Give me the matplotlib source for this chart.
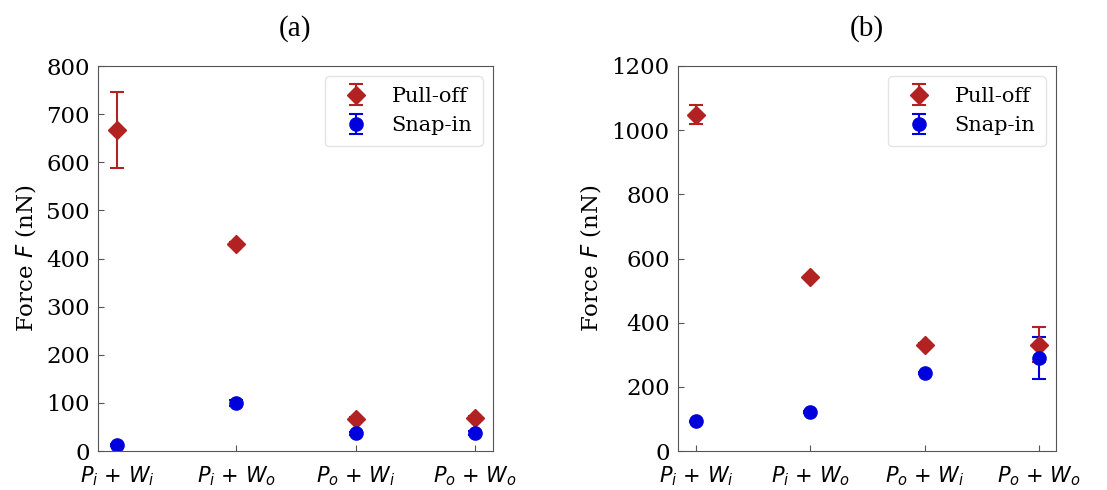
import numpy as np
import matplotlib
matplotlib.use('Agg')
import matplotlib.pyplot as plt

labels = [r'$P_i$ + $W_i$', r'$P_i$ + $W_o$', r'$P_o$ + $W_i$', r'$P_o$ + $W_o$']

pull_a = [667, 431, 67, 69]
pull_a_err = [79, 4, 3, 3]
snap_a = [13, 99, 37, 38]
snap_a_err = [2, 6, 3, 4]

pull_b = [1048, 541, 331, 331]
pull_b_err = [29, 5, 5, 55]
snap_b = [92, 121, 242, 289]
snap_b_err = [3, 3, 3, 66]

red = '#b22222'
blue = '#0000dd'

plt.rcParams['font.family'] = 'DejaVu Serif'
plt.rcParams['mathtext.fontset'] = 'dejavusans'

fig = plt.figure(figsize=(11.07, 4.9), dpi=100)
ax1 = fig.add_axes([98 / 1107, 39 / 490, 395 / 1107, 385 / 490])
ax2 = fig.add_axes([678 / 1107, 39 / 490, 378 / 1107, 385 / 490])

panels = [
    (ax1, pull_a, pull_a_err, snap_a, snap_a_err, 800, '(a)'),
    (ax2, pull_b, pull_b_err, snap_b, snap_b_err, 1200, '(b)'),
]

x = np.arange(len(labels))
for ax, pull, perr, snap, serr, ymax, title in panels:
    ax.errorbar(x, pull, yerr=perr, fmt='D', color=red, markersize=9.5,
                capsize=5, elinewidth=1.5, capthick=1.5, label='Pull-off')
    ax.errorbar(x, snap, yerr=serr, fmt='o', color=blue, markersize=9.5,
                capsize=5, elinewidth=1.5, capthick=1.5, label='Snap-in')
    ax.set_xlim(-0.16, 3.15)
    ax.set_ylim(0, ymax)
    ax.set_xticks(x)
    ax.set_xticklabels(labels, fontsize=15)
    ax.tick_params(axis='y', labelsize=16.5, pad=6)
    ax.tick_params(axis='x', pad=10)
    ax.tick_params(direction='in', length=4, color='#555555')
    for s in ax.spines.values():
        s.set_color('#555555')
    ax.set_ylabel(r'Force $F$ (nN)', fontsize=16.5, labelpad=6)
    ax.legend(loc='upper right', fontsize=15, handletextpad=0.7,
              borderpad=0.5, labelspacing=0.5, edgecolor='#dddddd')
    ax.set_title(title, fontsize=21, family='Liberation Serif', pad=22)

fig.savefig('out.png', dpi=100)
